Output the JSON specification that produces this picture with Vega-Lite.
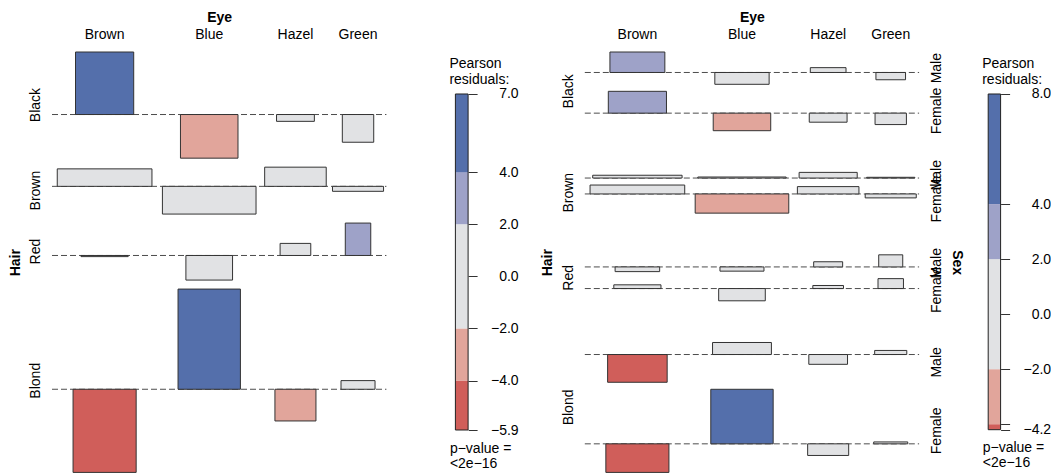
{
  "$schema": "https://vega.github.io/schema/vega-lite/v6.json",
  "padding": {"left": 8, "top": 10, "right": 0, "bottom": 0},
  "bounds": "flush",
  "spacing": 68.4,
  "config": {
    "font": "Liberation Sans",
    "view": {"stroke": null},
    "axis": {"labelFont": "Liberation Sans", "titleFont": "Liberation Sans", "labelColor": "black", "titleColor": "black"},
    "title": {"font": "Liberation Sans", "color": "black"}
  },
  "hconcat": [
    {
      "width": 334.4,
      "height": 420.4,
      "data": {"values": [
        {"Hair": "Black", "Eye": "Brown", "res": 4.40, "exp": 40.14},
        {"Hair": "Black", "Eye": "Blue", "res": -3.07, "exp": 39.22},
        {"Hair": "Black", "Eye": "Hazel", "res": -0.48, "exp": 16.97},
        {"Hair": "Black", "Eye": "Green", "res": -1.95, "exp": 11.68},
        {"Hair": "Brown", "Eye": "Brown", "res": 1.23, "exp": 106.28},
        {"Hair": "Brown", "Eye": "Blue", "res": -1.95, "exp": 103.87},
        {"Hair": "Brown", "Eye": "Hazel", "res": 1.35, "exp": 44.93},
        {"Hair": "Brown", "Eye": "Green", "res": -0.35, "exp": 30.92},
        {"Hair": "Red", "Eye": "Brown", "res": -0.08, "exp": 26.39},
        {"Hair": "Red", "Eye": "Blue", "res": -1.73, "exp": 25.79},
        {"Hair": "Red", "Eye": "Hazel", "res": 0.85, "exp": 11.15},
        {"Hair": "Red", "Eye": "Green", "res": 2.28, "exp": 7.68},
        {"Hair": "Blond", "Eye": "Brown", "res": -5.85, "exp": 47.20},
        {"Hair": "Blond", "Eye": "Blue", "res": 7.05, "exp": 46.12},
        {"Hair": "Blond", "Eye": "Hazel", "res": -2.23, "exp": 19.95},
        {"Hair": "Blond", "Eye": "Green", "res": 0.61, "exp": 13.73}
      ]},
      "transform": [
        {"calculate": "sqrt(datum.exp)", "as": "sq"},
        {"calculate": "indexof(['Black','Brown','Red','Blond'], datum.Hair)", "as": "hi"},
        {"calculate": "indexof(['Brown','Blue','Hazel','Green'], datum.Eye)", "as": "ei"},
        {"joinaggregate": [{"op": "max", "field": "res", "as": "rmax"}, {"op": "min", "field": "res", "as": "rmin"}], "groupby": ["Hair"]},
        {"joinaggregate": [{"op": "max", "field": "sq", "as": "colw"}], "groupby": ["Eye"]},
        {"calculate": "max(datum.rmax, 0)", "as": "rtop"},
        {"calculate": "datum.rtop - min(datum.rmin, 0)", "as": "rh"},
        {"stack": "rh", "groupby": ["Eye"], "sort": [{"field": "hi", "order": "ascending"}], "as": ["r0", "r1"], "offset": "zero"},
        {"stack": "colw", "groupby": ["Hair"], "sort": [{"field": "ei", "order": "ascending"}], "as": ["colL", "colR"], "offset": "zero"},
        {"calculate": "-(datum.r0 + 0.634 * datum.hi)", "as": "rowTop"},
        {"calculate": "datum.rowTop - datum.rh", "as": "rowBot"},
        {"calculate": "datum.rowTop - datum.rtop", "as": "base"},
        {"calculate": "datum.base + datum.res", "as": "tip"},
        {"calculate": "datum.colL + datum.colw / 2", "as": "cx"},
        {"calculate": "datum.cx - 0.45 * datum.sq", "as": "bx1"},
        {"calculate": "datum.cx + 0.45 * datum.sq", "as": "bx2"}
      ],
      "layer": [
        {
          "transform": [{"aggregate": [{"op": "min", "field": "colL", "as": "L"}, {"op": "max", "field": "colR", "as": "R"}], "groupby": ["Hair", "base"]}],
          "mark": {"type": "rule", "strokeDash": [6, 3], "color": "#4d4d4d", "strokeWidth": 1},
          "encoding": {
            "x": {"field": "L", "type": "quantitative"},
            "x2": {"field": "R"},
            "y": {"field": "base", "type": "quantitative"}
          }
        },
        {
          "mark": {"type": "rect", "stroke": "#333333", "strokeWidth": 1},
          "encoding": {
            "x": {"field": "bx1", "type": "quantitative", "scale": {"nice": false, "zero": false},
                  "axis": {"orient": "top", "title": "Eye", "labels": false, "ticks": false, "domain": false, "grid": false, "titleFontSize": 14, "titleFontWeight": "bold", "titlePadding": 28}},
            "x2": {"field": "bx2"},
            "y": {"field": "base", "type": "quantitative", "scale": {"nice": false, "zero": false},
                  "axis": {"orient": "left", "title": "Hair", "labels": false, "ticks": false, "domain": false, "grid": false, "titleFontSize": 14, "titleFontWeight": "bold", "titlePadding": 30}},
            "y2": {"field": "tip"},
            "color": {"field": "res", "type": "quantitative", "legend": null,
                      "scale": {"type": "threshold", "domain": [-4, -2, 2, 4], "range": ["#D05E5A", "#E1A59B", "#E1E2E4", "#9EA2C8", "#546FAB"]}}
          }
        },
        {
          "transform": [{"aggregate": [{"op": "mean", "field": "cx", "as": "cx"}, {"op": "max", "field": "rowTop", "as": "t"}], "groupby": ["Eye"]}],
          "mark": {"type": "text", "dy": -17, "fontSize": 14, "baseline": "middle", "align": "center"},
          "encoding": {
            "x": {"field": "cx", "type": "quantitative"},
            "y": {"field": "t", "type": "quantitative"},
            "text": {"field": "Eye"}
          }
        },
        {
          "transform": [
            {"aggregate": [{"op": "max", "field": "rowTop", "as": "t"}, {"op": "min", "field": "rowBot", "as": "b"}, {"op": "min", "field": "colL", "as": "l"}], "groupby": ["Hair"]},
            {"calculate": "(datum.t + datum.b) / 2", "as": "m"}
          ],
          "mark": {"type": "text", "angle": 270, "dy": -16, "fontSize": 14, "baseline": "middle", "align": "center"},
          "encoding": {
            "x": {"field": "l", "type": "quantitative"},
            "y": {"field": "m", "type": "quantitative"},
            "text": {"field": "Hair"}
          }
        }
      ]
    },
    {
      "width": 60.1,
      "height": 378,
      "title": {"text": ["Pearson", "residuals:"], "anchor": "start", "frame": "group", "orient": "top", "baseline": "top", "offset": -35, "dx": -6, "fontSize": 14, "fontWeight": "normal", "lineHeight": 16, "align": "left"},
      "data": {"values": [
        {"lo": -5.9, "hi": -4},
        {"lo": -4, "hi": -2},
        {"lo": -2, "hi": 2},
        {"lo": 2, "hi": 4},
        {"lo": 4, "hi": 7.0}
      ]},
      "layer": [
        {
          "mark": {"type": "rect"},
          "encoding": {
            "x": {"datum": 0, "type": "quantitative", "scale": {"domain": [0, 4.732], "nice": false, "zero": false},
                  "axis": {"orient": "bottom", "labels": false, "ticks": false, "domain": false, "grid": false, "title": ["p−value =", "<2e−16"], "titleX": -6, "titleY": 11, "titleAlign": "left", "titleBaseline": "top", "titleFontWeight": "normal", "titleFontSize": 14, "titleLineHeight": 15}},
            "x2": {"datum": 1},
            "y": {"field": "lo", "type": "quantitative", "scale": {"domain": [-5.9, 8.612], "nice": false, "zero": false},
                  "axis": {"orient": "right", "offset": -47.4, "values": [-5.9, -4, -2, 0, 2, 4, 7], "format": ".1f", "tickSize": 9, "tickColor": "#333333", "labelAlign": "right", "labelBaseline": "middle", "labelPadding": 41, "labelFontSize": 14, "labelFlush": false, "labelOverlap": false, "domain": false, "grid": false, "title": null}},
            "y2": {"field": "hi"},
            "color": {"field": "lo", "type": "quantitative", "legend": null,
                      "scale": {"type": "threshold", "domain": [-4, -2, 2, 4], "range": ["#D05E5A", "#E1A59B", "#E1E2E4", "#9EA2C8", "#546FAB"]}}
          }
        },
        {
          "transform": [{"aggregate": [{"op": "min", "field": "lo", "as": "lo"}, {"op": "max", "field": "hi", "as": "hi"}]}],
          "mark": {"type": "rect", "fill": "transparent", "stroke": "#222222", "strokeWidth": 1},
          "encoding": {
            "x": {"datum": 0, "type": "quantitative"},
            "x2": {"datum": 1},
            "y": {"field": "lo", "type": "quantitative"},
            "y2": {"field": "hi"}
          }
        }
      ]
    },
    {
      "width": 334.3,
      "height": 420.4,
      "data": {"values": [
        {"Hair": "Black", "Sex": "Male", "Eye": "Brown", "res": 3.01, "exp": 18.92},
        {"Hair": "Black", "Sex": "Male", "Eye": "Blue", "res": -1.74, "exp": 18.49},
        {"Hair": "Black", "Sex": "Male", "Eye": "Hazel", "res": 0.71, "exp": 8.00},
        {"Hair": "Black", "Sex": "Male", "Eye": "Green", "res": -1.07, "exp": 5.50},
        {"Hair": "Black", "Sex": "Female", "Eye": "Brown", "res": 3.21, "exp": 21.22},
        {"Hair": "Black", "Sex": "Female", "Eye": "Blue", "res": -2.58, "exp": 20.74},
        {"Hair": "Black", "Sex": "Female", "Eye": "Hazel", "res": -1.33, "exp": 8.97},
        {"Hair": "Black", "Sex": "Female", "Eye": "Green", "res": -1.68, "exp": 6.17},
        {"Hair": "Brown", "Sex": "Male", "Eye": "Brown", "res": 0.41, "exp": 50.09},
        {"Hair": "Brown", "Sex": "Male", "Eye": "Blue", "res": 0.15, "exp": 48.95},
        {"Hair": "Brown", "Sex": "Male", "Eye": "Hazel", "res": 0.83, "exp": 21.17},
        {"Hair": "Brown", "Sex": "Male", "Eye": "Green", "res": 0.11, "exp": 14.57},
        {"Hair": "Brown", "Sex": "Female", "Eye": "Brown", "res": 1.31, "exp": 56.19},
        {"Hair": "Brown", "Sex": "Female", "Eye": "Blue", "res": -2.82, "exp": 54.92},
        {"Hair": "Brown", "Sex": "Female", "Eye": "Hazel", "res": 1.08, "exp": 23.76},
        {"Hair": "Brown", "Sex": "Female", "Eye": "Green", "res": -0.58, "exp": 16.35},
        {"Hair": "Red", "Sex": "Male", "Eye": "Brown", "res": -0.69, "exp": 12.44},
        {"Hair": "Red", "Sex": "Male", "Eye": "Blue", "res": -0.62, "exp": 12.15},
        {"Hair": "Red", "Sex": "Male", "Eye": "Hazel", "res": 0.76, "exp": 5.26},
        {"Hair": "Red", "Sex": "Male", "Eye": "Green", "res": 1.78, "exp": 3.62},
        {"Hair": "Red", "Sex": "Female", "Eye": "Brown", "res": 0.55, "exp": 13.95},
        {"Hair": "Red", "Sex": "Female", "Eye": "Blue", "res": -1.80, "exp": 13.63},
        {"Hair": "Red", "Sex": "Female", "Eye": "Hazel", "res": 0.45, "exp": 5.90},
        {"Hair": "Red", "Sex": "Female", "Eye": "Green", "res": 1.46, "exp": 4.06},
        {"Hair": "Blond", "Sex": "Male", "Eye": "Brown", "res": -4.08, "exp": 22.24},
        {"Hair": "Blond", "Sex": "Male", "Eye": "Blue", "res": 1.77, "exp": 21.74},
        {"Hair": "Blond", "Sex": "Male", "Eye": "Hazel", "res": -1.44, "exp": 9.40},
        {"Hair": "Blond", "Sex": "Male", "Eye": "Green", "res": 0.60, "exp": 6.47},
        {"Hair": "Blond", "Sex": "Female", "Eye": "Brown", "res": -4.20, "exp": 24.95},
        {"Hair": "Blond", "Sex": "Female", "Eye": "Blue", "res": 8.02, "exp": 24.39},
        {"Hair": "Blond", "Sex": "Female", "Eye": "Hazel", "res": -1.71, "exp": 10.55},
        {"Hair": "Blond", "Sex": "Female", "Eye": "Green", "res": 0.28, "exp": 7.26}
      ]},
      "transform": [
        {"calculate": "sqrt(datum.exp)", "as": "sq"},
        {"calculate": "indexof(['Black','Brown','Red','Blond'], datum.Hair)", "as": "hi"},
        {"calculate": "indexof(['Brown','Blue','Hazel','Green'], datum.Eye)", "as": "ei"},
        {"calculate": "datum.Sex == 'Male' ? 0 : 1", "as": "si"},
        {"calculate": "datum.hi * 2 + datum.si", "as": "ri"},
        {"joinaggregate": [{"op": "max", "field": "res", "as": "rmax"}, {"op": "min", "field": "res", "as": "rmin"}], "groupby": ["Hair", "Sex"]},
        {"joinaggregate": [{"op": "max", "field": "sq", "as": "colw"}], "groupby": ["Eye"]},
        {"calculate": "max(datum.rmax, 0)", "as": "rtop"},
        {"calculate": "datum.rtop - min(datum.rmin, 0)", "as": "rh"},
        {"stack": "rh", "groupby": ["Eye"], "sort": [{"field": "ri", "order": "ascending"}], "as": ["r0", "r1"], "offset": "zero"},
        {"stack": "colw", "groupby": ["Hair", "Sex"], "sort": [{"field": "ei", "order": "ascending"}], "as": ["colL", "colR"], "offset": "zero"},
        {"calculate": "-(datum.r0 + 1.03 * (datum.ri - datum.hi) + 6.13 * datum.hi)", "as": "rowTop"},
        {"calculate": "datum.rowTop - datum.rh", "as": "rowBot"},
        {"calculate": "datum.rowTop - datum.rtop", "as": "base"},
        {"calculate": "datum.base + datum.res", "as": "tip"},
        {"calculate": "datum.colL + datum.colw / 2", "as": "cx"},
        {"calculate": "datum.cx - 0.45 * datum.sq", "as": "bx1"},
        {"calculate": "datum.cx + 0.45 * datum.sq", "as": "bx2"}
      ],
      "resolve": {"axis": {"y": "independent"}},
      "layer": [
        {
          "transform": [{"aggregate": [{"op": "min", "field": "colL", "as": "L"}, {"op": "max", "field": "colR", "as": "R"}], "groupby": ["Hair", "Sex", "base"]}],
          "mark": {"type": "rule", "strokeDash": [6, 3], "color": "#4d4d4d", "strokeWidth": 1},
          "encoding": {
            "x": {"field": "L", "type": "quantitative"},
            "x2": {"field": "R"},
            "y": {"field": "base", "type": "quantitative", "axis": null}
          }
        },
        {
          "mark": {"type": "rect", "stroke": "#333333", "strokeWidth": 1},
          "encoding": {
            "x": {"field": "bx1", "type": "quantitative", "scale": {"nice": false, "zero": false},
                  "axis": {"orient": "top", "title": "Eye", "labels": false, "ticks": false, "domain": false, "grid": false, "titleFontSize": 14, "titleFontWeight": "bold", "titlePadding": 28}},
            "x2": {"field": "bx2"},
            "y": {"field": "base", "type": "quantitative", "scale": {"nice": false, "zero": false},
                  "axis": {"orient": "left", "title": "Hair", "labels": false, "ticks": false, "domain": false, "grid": false, "titleFontSize": 14, "titleFontWeight": "bold", "titlePadding": 30}},
            "y2": {"field": "tip"},
            "color": {"field": "res", "type": "quantitative", "legend": null,
                      "scale": {"type": "threshold", "domain": [-4, -2, 2, 4], "range": ["#D05E5A", "#E1A59B", "#E1E2E4", "#9EA2C8", "#546FAB"]}}
          }
        },
        {
          "transform": [{"aggregate": [{"op": "mean", "field": "cx", "as": "cx"}, {"op": "max", "field": "rowTop", "as": "t"}], "groupby": ["Eye"]}],
          "mark": {"type": "text", "dy": -17, "fontSize": 14, "baseline": "middle", "align": "center"},
          "encoding": {
            "x": {"field": "cx", "type": "quantitative"},
            "y": {"field": "t", "type": "quantitative", "axis": null},
            "text": {"field": "Eye"}
          }
        },
        {
          "transform": [
            {"aggregate": [{"op": "max", "field": "rowTop", "as": "t"}, {"op": "min", "field": "rowBot", "as": "b"}, {"op": "min", "field": "colL", "as": "l"}], "groupby": ["Hair"]},
            {"calculate": "(datum.t + datum.b) / 2", "as": "m"}
          ],
          "mark": {"type": "text", "angle": 270, "dy": -16, "fontSize": 14, "baseline": "middle", "align": "center"},
          "encoding": {
            "x": {"field": "l", "type": "quantitative"},
            "y": {"field": "m", "type": "quantitative", "axis": null},
            "text": {"field": "Hair"}
          }
        },
        {
          "transform": [
            {"aggregate": [{"op": "max", "field": "rowTop", "as": "t"}, {"op": "min", "field": "rowBot", "as": "b"}, {"op": "max", "field": "colR", "as": "r"}], "groupby": ["Hair", "Sex"]},
            {"calculate": "(datum.t + datum.b) / 2", "as": "m"}
          ],
          "mark": {"type": "text", "angle": 270, "dy": 18, "fontSize": 14, "baseline": "middle", "align": "center"},
          "encoding": {
            "x": {"field": "r", "type": "quantitative"},
            "y": {"field": "m", "type": "quantitative",
                  "axis": {"orient": "right", "title": "Sex", "labels": false, "ticks": false, "domain": false, "grid": false, "titleFontSize": 14, "titleFontWeight": "bold", "titlePadding": 30}},
            "text": {"field": "Sex"}
          }
        }
      ]
    },
    {
      "width": 12.4,
      "height": 377.7,
      "title": {"text": ["Pearson", "residuals:"], "anchor": "start", "frame": "group", "orient": "top", "baseline": "top", "offset": -35, "dx": -6, "fontSize": 14, "fontWeight": "normal", "lineHeight": 16, "align": "left"},
      "data": {"values": [
        {"lo": -4.2, "hi": -4},
        {"lo": -4, "hi": -2},
        {"lo": -2, "hi": 2},
        {"lo": 2, "hi": 4},
        {"lo": 4, "hi": 8.0}
      ]},
      "layer": [
        {
          "mark": {"type": "rect"},
          "encoding": {
            "x": {"datum": 0, "type": "quantitative", "scale": {"domain": [0, 1], "nice": false, "zero": false},
                  "axis": {"orient": "bottom", "labels": false, "ticks": false, "domain": false, "grid": false, "title": ["p−value =", "<2e−16"], "titleX": -6, "titleY": 11, "titleAlign": "left", "titleBaseline": "top", "titleFontWeight": "normal", "titleFontSize": 14, "titleLineHeight": 15}},
            "x2": {"datum": 1},
            "y": {"field": "lo", "type": "quantitative", "scale": {"domain": [-4.2, 9.526], "nice": false, "zero": false},
                  "axis": {"orient": "right", "values": [-4.2, -4, -2, 0, 2, 4, 8], "format": ".1f", "labelExpr": "datum.value == -4 ? '' : datum.label", "tickSize": 9, "tickColor": "#333333", "labelAlign": "right", "labelBaseline": "middle", "labelPadding": 41, "labelFontSize": 14, "labelFlush": false, "labelOverlap": false, "domain": false, "grid": false, "title": null}},
            "y2": {"field": "hi"},
            "color": {"field": "lo", "type": "quantitative", "legend": null,
                      "scale": {"type": "threshold", "domain": [-4, -2, 2, 4], "range": ["#D05E5A", "#E1A59B", "#E1E2E4", "#9EA2C8", "#546FAB"]}}
          }
        },
        {
          "transform": [{"aggregate": [{"op": "min", "field": "lo", "as": "lo"}, {"op": "max", "field": "hi", "as": "hi"}]}],
          "mark": {"type": "rect", "fill": "transparent", "stroke": "#222222", "strokeWidth": 1},
          "encoding": {
            "x": {"datum": 0, "type": "quantitative"},
            "x2": {"datum": 1},
            "y": {"field": "lo", "type": "quantitative"},
            "y2": {"field": "hi"}
          }
        }
      ]
    }
  ]
}
